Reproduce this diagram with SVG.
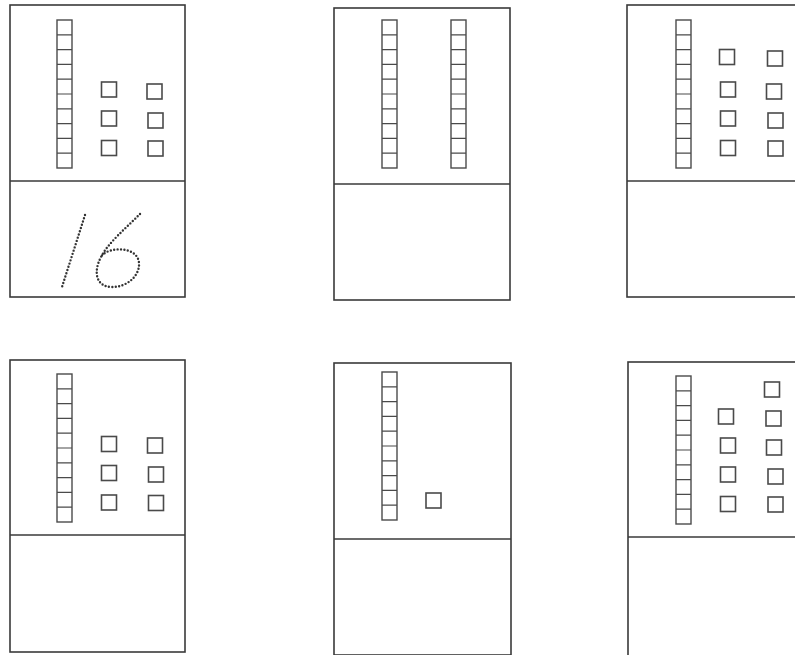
<svg xmlns="http://www.w3.org/2000/svg" xmlns:xlink="http://www.w3.org/1999/xlink" width="795" height="655" viewBox="0 0 795 655">
<style>
.card{fill:#fff;stroke:#3a3a3a;stroke-width:1.6}
.div{stroke:#3a3a3a;stroke-width:1.6;fill:none}
.rod{fill:#fff;stroke:#4a4a4a;stroke-width:1.4}
.cell{stroke:#4a4a4a;stroke-width:1.2}
.unit{fill:#fff;stroke:#4a4a4a;stroke-width:1.6}
.dot{fill:none;stroke:#333;stroke-width:2.4;stroke-linecap:round;stroke-dasharray:0 3.4}
</style>
<defs>
<g id="rod">
<rect class="rod" x="0" y="0" width="15" height="148"/>
<path class="cell" d="M0,14.8H15M0,29.6H15M0,44.4H15M0,59.2H15M0,74H15M0,88.8H15M0,103.6H15M0,118.4H15M0,133.2H15"/>
</g>
<rect id="u" class="unit" x="0" y="0" width="15" height="15"/>
</defs>
<rect width="795" height="655" fill="#fff"/>

<g id="card1">
<rect class="card" x="10" y="5" width="175" height="292"/>
<line class="div" x1="10" y1="181" x2="185" y2="181"/>
<use xlink:href="#rod" x="57" y="20"/>
<use xlink:href="#u" x="101.5" y="82"/>
<use xlink:href="#u" x="101.5" y="111"/>
<use xlink:href="#u" x="101.5" y="140.5"/>
<use xlink:href="#u" x="147" y="84"/>
<use xlink:href="#u" x="148" y="113"/>
<use xlink:href="#u" x="148" y="141"/>
<path class="dot" d="M85,215 L62,287"/>
<path class="dot" d="M140,214 C126,228 108,243 101,257 C93,272 96,287 112,287 C128,287 140,275 139,263 C138,250 121,247 109,251 C104,253 102,255 101,257"/>
</g>

<g id="card2">
<rect class="card" x="334" y="8" width="176" height="292"/>
<line class="div" x1="334" y1="184" x2="510" y2="184"/>
<use xlink:href="#rod" x="382" y="20"/>
<use xlink:href="#rod" x="451" y="20"/>
</g>

<g id="card3">
<rect class="card" x="627" y="5" width="176" height="292"/>
<line class="div" x1="627" y1="181" x2="800" y2="181"/>
<use xlink:href="#rod" x="676" y="20"/>
<use xlink:href="#u" x="719.5" y="49.5"/>
<use xlink:href="#u" x="720.5" y="82"/>
<use xlink:href="#u" x="720.5" y="111"/>
<use xlink:href="#u" x="720.5" y="140.5"/>
<use xlink:href="#u" x="767.5" y="51"/>
<use xlink:href="#u" x="766.5" y="84"/>
<use xlink:href="#u" x="768" y="113"/>
<use xlink:href="#u" x="768" y="141"/>
</g>

<g id="card4">
<rect class="card" x="10" y="360" width="175" height="292"/>
<line class="div" x1="10" y1="535" x2="185" y2="535"/>
<use xlink:href="#rod" x="57" y="374"/>
<use xlink:href="#u" x="101.5" y="436.5"/>
<use xlink:href="#u" x="101.5" y="465.5"/>
<use xlink:href="#u" x="101.5" y="495"/>
<use xlink:href="#u" x="147.5" y="438"/>
<use xlink:href="#u" x="148.5" y="467"/>
<use xlink:href="#u" x="148.5" y="495.5"/>
</g>

<g id="card5">
<rect class="card" x="334" y="363" width="177" height="292"/>
<line class="div" x1="334" y1="539" x2="511" y2="539"/>
<use xlink:href="#rod" x="382" y="372"/>
<use xlink:href="#u" x="426" y="493"/>
</g>

<g id="card6">
<rect class="card" x="628" y="362" width="175" height="300"/>
<line class="div" x1="628" y1="537" x2="800" y2="537"/>
<use xlink:href="#rod" x="676" y="376"/>
<use xlink:href="#u" x="718.5" y="409"/>
<use xlink:href="#u" x="720.5" y="438"/>
<use xlink:href="#u" x="720.5" y="467"/>
<use xlink:href="#u" x="720.5" y="496.5"/>
<use xlink:href="#u" x="764.5" y="382"/>
<use xlink:href="#u" x="766" y="411"/>
<use xlink:href="#u" x="766.5" y="440"/>
<use xlink:href="#u" x="768" y="469"/>
<use xlink:href="#u" x="768" y="497"/>
</g>
</svg>
